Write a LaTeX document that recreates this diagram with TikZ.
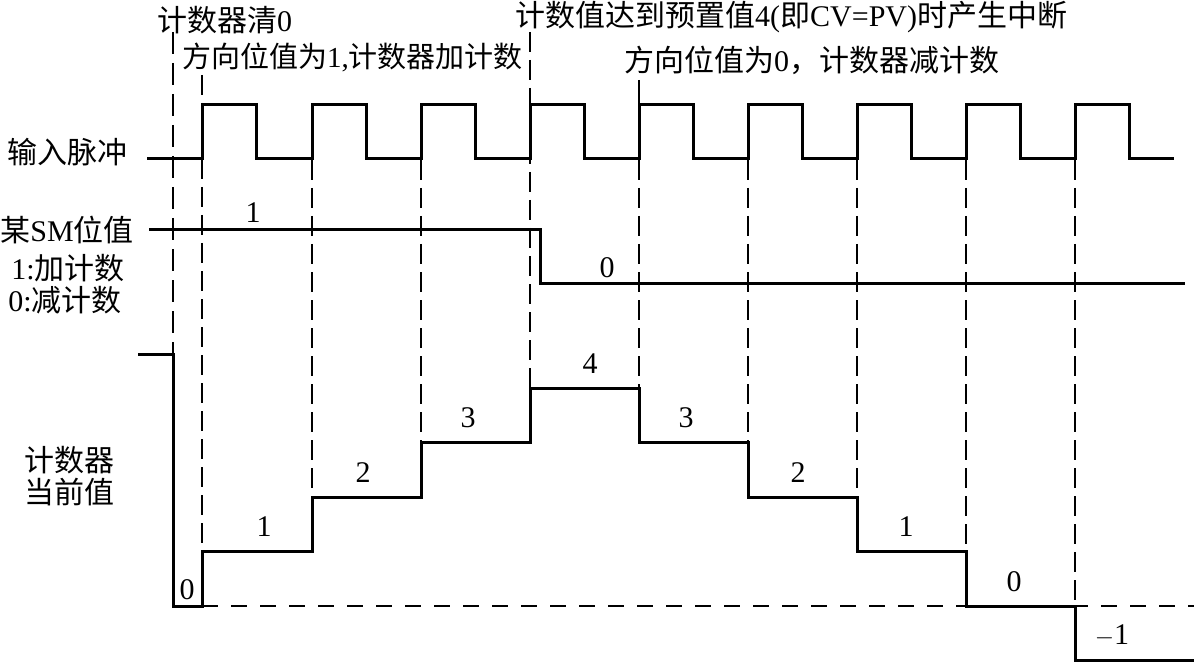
\documentclass[tikz,border=0pt]{standalone}
\usepackage{fontspec}
\setmainfont{Liberation Serif}
\newfontfamily\cjk{Noto Sans CJK SC}
\usetikzlibrary{positioning}

\newcommand{\zh}[1]{{\cjk #1}}

\begin{document}
\begin{tikzpicture}[x=1pt, y=-1pt,
    sigline/.style={line width=3pt, line join=miter},
    guideline/.style={line width=1.1pt, dash pattern=on 20pt off 8pt},
    longdash/.style={line width=2pt, dash pattern=on 22pt off 9pt},
    zeroline/.style={line width=2.2pt, dash pattern=on 16pt off 13pt},
    lbl/.style={font=\fontsize{30}{33}\selectfont, inner sep=0pt}]

    \useasboundingbox (0,0) rectangle (1194,663);

    % Notes on top
    \node[lbl, anchor=west] (clr) at (157,20) {\zh{计数器清}0};
    \node[lbl, anchor=west, font=\fontsize{29}{32}\selectfont] (upnote) at (182,57) {\zh{方向位值为}1,\zh{计数器加计数}};
    \node[lbl, anchor=west] (intnote) at (515,17) {\zh{计数值达到预置值}4(\zh{即}CV=PV)\zh{时产生中断}};
    \node[lbl, anchor=west] (downnote) at (624,60) {\zh{方向位值为}0\zh{，计数器减计数}};

    % Row labels
    \node[lbl] (lblpulse) at (67,152) {\zh{输入脉冲}};
    \node[lbl] (lblsm) at (67,230) {\zh{某}SM\zh{位值}};
    \node[lbl] (lblup) at (68,268) {1:\zh{加计数}};
    \node[lbl] (lbldown) at (65,300) {0:\zh{减计数}};
    \node[lbl] (lblcnt) at (69,460) {\zh{计数器}};
    \node[lbl] (lblcur) at (69,492) {\zh{当前值}};

    % Guide lines
    \draw[longdash] (173,32) -- (173,354);
    \foreach \x/\ya/\yb in {202/75/551.5, 312/160/497, 421/160/442.5, 530/32/388,
        639/160/388, 748/160/442.5, 857/160/497, 966/160/551.5, 1075/160/606}
        { \draw[guideline] (\x,\ya) -- (\x,\yb); }
    \draw[line width=1.1pt] (639,80) -- (639,105);
    \draw[zeroline] (202,606) -- (1194,606);

    % Input pulses
    \draw[sigline] (147,159)
        foreach \x in {202,312,421,530,639,748,857,966,1075}
        { -- (\x,159) -- (\x,105) -- (\x+54,105) -- (\x+54,159) }
        -- (1174,159);

    % SM direction bit
    \draw[sigline] (149,230) -- (540,230) -- (540,283) -- (1185,283);
    \node[lbl] (smhi) at (253,213) {1};
    \node[lbl] (smlo) at (607,268) {0};

    % Counter value
    \draw[sigline] (138,354) -- (173,354) -- (173,606) -- (202,606)
        -- (202,551.5) -- (312,551.5) -- (312,497) -- (421,497)
        -- (421,442.5) -- (530,442.5) -- (530,388) -- (639,388)
        -- (639,442.5) -- (748,442.5) -- (748,497) -- (857,497)
        -- (857,551.5) -- (966,551.5) -- (966,606) -- (1075,606)
        -- (1075,660.5) -- (1194,660.5);
    \foreach \x/\y/\v [count=\i] in {187/590/0, 264/527/1, 363/473/2, 468/418/3, 590/364/4,
        686/418/3, 798/473/2, 906/527/1, 1014/582/0, 1112/636/$-$1}
        { \node[lbl] (cv\i) at (\x,\y) {\v}; }

\end{tikzpicture}
\end{document}
